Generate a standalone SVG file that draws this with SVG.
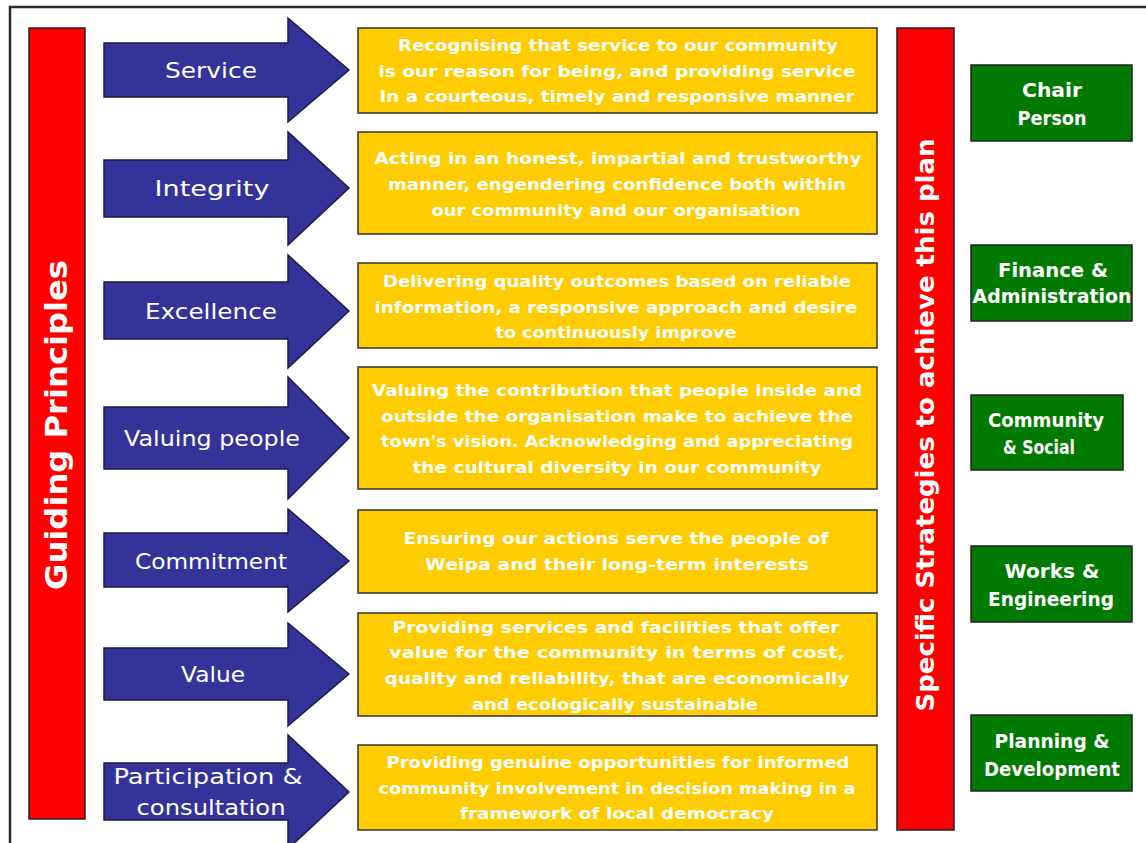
<svg xmlns="http://www.w3.org/2000/svg" width="1146" height="843" viewBox="0 0 1146 843">
<style>
.arrow{fill:#333399;stroke:#1c1c44;stroke-width:1.5}
.ybox{fill:#FFCC00;stroke:#333;stroke-width:1.5}
.gbox{fill:#007A00;stroke:#222;stroke-width:1.5}
.rbar{fill:#FF0000;stroke:#222;stroke-width:1.5}
.lbl{font-family:"DejaVu Sans","Liberation Sans",sans-serif;font-size:21px;fill:#fff;text-anchor:middle}
.desc{font-family:"DejaVu Sans","Liberation Sans",sans-serif;font-size:16px;font-weight:bold;fill:#fff;text-anchor:middle}
.glbl{font-family:"DejaVu Sans","Liberation Sans",sans-serif;font-size:19px;font-weight:bold;fill:#fff;text-anchor:middle}
.vert{font-family:"DejaVu Sans","Liberation Sans",sans-serif;font-weight:bold;fill:#fff;text-anchor:middle}
</style>
<rect x="0" y="0" width="1146" height="843" fill="#fff"/>
<rect x="10" y="7" width="1200" height="900" fill="#fff" stroke="#2a2a2a" stroke-width="2.5"/>

<g id="guiding-principles">
<rect class="rbar" x="29" y="28" width="56" height="791"/>
<text class="vert" font-size="30" transform="translate(67,425) rotate(-90)" textLength="330" lengthAdjust="spacingAndGlyphs">Guiding Principles</text>
</g>

<g id="specific-strategies">
<rect class="rbar" x="897" y="28" width="57" height="802"/>
<text class="vert" font-size="24" transform="translate(934,425) rotate(-90)" textLength="573" lengthAdjust="spacingAndGlyphs">Specific Strategies to achieve this plan</text>
</g>

<g id="connectors">
<polygon id="arrow-service" class="arrow" points="104,43 288,43 288,18 349,70 288,122 288,97 104,97"/>
<polygon id="arrow-integrity" class="arrow" points="104,160 288,160 288,132 349,188 288,245 288,217 104,217"/>
<polygon id="arrow-excellence" class="arrow" points="104,282 288,282 288,255 349,311 288,368 288,339 104,339"/>
<polygon id="arrow-valuing" class="arrow" points="104,407 288,407 288,377 349,438 288,499 288,469 104,469"/>
<polygon id="arrow-commitment" class="arrow" points="104,533 288,533 288,509 349,561 288,612 288,587 104,587"/>
<polygon id="arrow-value" class="arrow" points="104,648 288,648 288,623 349,674 288,726 288,700 104,700"/>
<polygon id="arrow-participation" class="arrow" points="104,763 288,763 288,735 349,792 288,849 288,820 104,820"/>
</g>

<g id="label-service"><text class="lbl" x="211" y="78" textLength="92" lengthAdjust="spacingAndGlyphs">Service</text></g>
<g id="label-integrity"><text class="lbl" x="212" y="196" textLength="115" lengthAdjust="spacingAndGlyphs">Integrity</text></g>
<g id="label-excellence"><text class="lbl" x="211" y="319" textLength="132" lengthAdjust="spacingAndGlyphs">Excellence</text></g>
<g id="label-valuing"><text class="lbl" x="212" y="446" textLength="176" lengthAdjust="spacingAndGlyphs">Valuing people</text></g>
<g id="label-commitment"><text class="lbl" x="211" y="569" textLength="152" lengthAdjust="spacingAndGlyphs">Commitment</text></g>
<g id="label-value"><text class="lbl" x="213" y="682" textLength="64" lengthAdjust="spacingAndGlyphs">Value</text></g>
<g id="label-participation">
<text class="lbl" x="208" y="784" textLength="189" lengthAdjust="spacingAndGlyphs">Participation &amp;</text>
<text class="lbl" x="211" y="815" textLength="149" lengthAdjust="spacingAndGlyphs">consultation</text>
</g>

<g id="box-service">
<rect class="ybox" x="358" y="28" width="519" height="85"/>
<text class="desc" x="618" y="51" textLength="440" lengthAdjust="spacingAndGlyphs">Recognising that service to our community</text>
<text class="desc" x="617" y="77" textLength="477" lengthAdjust="spacingAndGlyphs">is our reason for being, and providing service</text>
<text class="desc" x="617" y="102" textLength="475" lengthAdjust="spacingAndGlyphs">In a courteous, timely and responsive manner</text>
</g>
<g id="box-integrity">
<rect class="ybox" x="358" y="132" width="519" height="102"/>
<text class="desc" x="618" y="164" textLength="487" lengthAdjust="spacingAndGlyphs">Acting in an honest, impartial and trustworthy</text>
<text class="desc" x="617" y="190" textLength="458" lengthAdjust="spacingAndGlyphs">manner, engendering confidence both within</text>
<text class="desc" x="616" y="216" textLength="369" lengthAdjust="spacingAndGlyphs">our community and our organisation</text>
</g>
<g id="box-excellence">
<rect class="ybox" x="358" y="263" width="519" height="85"/>
<text class="desc" x="617" y="287" textLength="468" lengthAdjust="spacingAndGlyphs">Delivering quality outcomes based on reliable</text>
<text class="desc" x="616" y="313" textLength="483" lengthAdjust="spacingAndGlyphs">information, a responsive approach and desire</text>
<text class="desc" x="616" y="338" textLength="241" lengthAdjust="spacingAndGlyphs">to continuously improve</text>
</g>
<g id="box-valuing">
<rect class="ybox" x="358" y="367" width="519" height="122"/>
<text class="desc" x="617" y="396" textLength="490" lengthAdjust="spacingAndGlyphs">Valuing the contribution that people inside and</text>
<text class="desc" x="617" y="422" textLength="472" lengthAdjust="spacingAndGlyphs">outside the organisation make to achieve the</text>
<text class="desc" x="617" y="447" textLength="472" lengthAdjust="spacingAndGlyphs">town's vision. Acknowledging and appreciating</text>
<text class="desc" x="617" y="473" textLength="409" lengthAdjust="spacingAndGlyphs">the cultural diversity in our community</text>
</g>
<g id="box-commitment">
<rect class="ybox" x="358" y="510" width="519" height="83"/>
<text class="desc" x="616" y="544" textLength="425" lengthAdjust="spacingAndGlyphs">Ensuring our actions serve the people of</text>
<text class="desc" x="617" y="570" textLength="384" lengthAdjust="spacingAndGlyphs">Weipa and their long-term interests</text>
</g>
<g id="box-value">
<rect class="ybox" x="358" y="613" width="519" height="103"/>
<text class="desc" x="616" y="633" textLength="447" lengthAdjust="spacingAndGlyphs">Providing services and facilities that offer</text>
<text class="desc" x="617" y="658" textLength="456" lengthAdjust="spacingAndGlyphs">value for the community in terms of cost,</text>
<text class="desc" x="617" y="684" textLength="465" lengthAdjust="spacingAndGlyphs">quality and reliability, that are economically</text>
<text class="desc" x="615" y="710" textLength="286" lengthAdjust="spacingAndGlyphs">and ecologically sustainable</text>
</g>
<g id="box-participation">
<rect class="ybox" x="358" y="745" width="519" height="85"/>
<text class="desc" x="618" y="768" textLength="463" lengthAdjust="spacingAndGlyphs">Providing genuine opportunities for informed</text>
<text class="desc" x="617" y="794" textLength="477" lengthAdjust="spacingAndGlyphs">community involvement in decision making in a</text>
<text class="desc" x="617" y="819" textLength="314" lengthAdjust="spacingAndGlyphs">framework of local democracy</text>
</g>

<g id="chair-person">
<rect class="gbox" x="971" y="65" width="161" height="76"/>
<text class="glbl" x="1052" y="97" textLength="60" lengthAdjust="spacingAndGlyphs">Chair</text>
<text class="glbl" x="1052" y="125" textLength="69" lengthAdjust="spacingAndGlyphs">Person</text>
</g>
<g id="finance-administration">
<rect class="gbox" x="971" y="245" width="161" height="76"/>
<text class="glbl" x="1053" y="277" textLength="110" lengthAdjust="spacingAndGlyphs">Finance &amp;</text>
<text class="glbl" x="1052" y="303" textLength="159" lengthAdjust="spacingAndGlyphs">Administration</text>
</g>
<g id="community-social">
<rect class="gbox" x="971" y="395" width="152" height="75"/>
<text class="glbl" x="1046" y="427" textLength="116" lengthAdjust="spacingAndGlyphs">Community</text>
<text class="glbl" x="1039" y="454" textLength="72" lengthAdjust="spacingAndGlyphs">&amp; Social</text>
</g>
<g id="works-engineering">
<rect class="gbox" x="971" y="546" width="161" height="76"/>
<text class="glbl" x="1052" y="578" textLength="95" lengthAdjust="spacingAndGlyphs">Works &amp;</text>
<text class="glbl" x="1051" y="606" textLength="126" lengthAdjust="spacingAndGlyphs">Engineering</text>
</g>
<g id="planning-development">
<rect class="gbox" x="971" y="715" width="161" height="76"/>
<text class="glbl" x="1052" y="748" textLength="115" lengthAdjust="spacingAndGlyphs">Planning &amp;</text>
<text class="glbl" x="1052" y="776" textLength="136" lengthAdjust="spacingAndGlyphs">Development</text>
</g>
</svg>
